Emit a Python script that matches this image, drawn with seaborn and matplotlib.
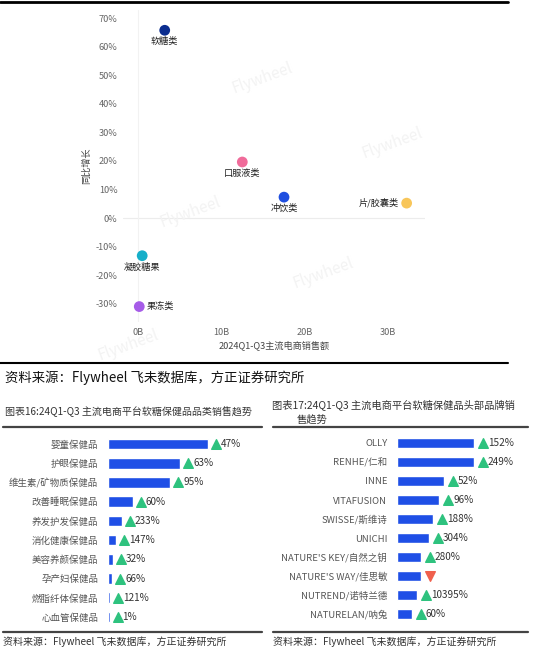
import matplotlib
matplotlib.use("Agg")
import matplotlib.pyplot as plt
import seaborn as sns
import pandas as pd

# scatter: category sales (B) vs YoY growth (%)
scatter_cats = ["软糖类", "口服液类", "冲饮类", "片/胶囊类", "凝胶糖果", "果冻类"]
scatter_sales = [3.2, 12.5, 17.5, 32.2, 0.5, 0.15]
scatter_growth = [65.7, 19.6, 7.3, 5.2, -13.2, -31.0]
scatter_colors = ["#0b2d8f", "#f06b9a", "#1f4fe0", "#f8c65a", "#16afc9", "#a65ce8"]

# left bars: category sales (relative) and growth labels
cat_names = ["婴童保健品", "护眼保健品", "维生素/矿物质保健品", "改善睡眠保健品", "养发护发保健品",
             "消化健康保健品", "美容养颜保健品", "孕产妇保健品", "燃脂纤体保健品", "心血管保健品"]
cat_sales = [100, 72, 62, 25, 14, 8, 5, 4, 2, 1.5]
cat_growth = ["47%", "63%", "95%", "60%", "233%", "147%", "32%", "66%", "121%", "1%"]

# right bars: brand sales (relative) and growth labels
brand_names = ["OLLY", "RENHE/仁和", "INNE", "VITAFUSION", "SWISSE/斯维诗", "UNICHI",
               "NATURE'S KEY/自然之钥", "NATURE'S WAY/佳思敏", "NUTREND/诺特兰德", "NATURELAN/呐兔"]
brand_sales = [77, 77, 47, 42, 36, 32, 24, 24, 20, 15]
brand_growth = ["152%", "249%", "52%", "96%", "188%", "304%", "280%", "", "10395%", "60%"]
brand_up = [True, True, True, True, True, True, True, False, True, True]

W, H = 540, 656
sns.set_style("white")
plt.rcParams["font.family"] = ["Noto Sans CJK SC", "DejaVu Sans"]

fig = plt.figure(figsize=(W / 100, H / 100), dpi=100)


def px_rect(left, top, right, bottom):
    return [left / W, 1 - bottom / H, (right - left) / W, (bottom - top) / H]


def hline(y, x0, x1, lw=1.5, color="black"):
    fig.add_artist(plt.Line2D([x0 / W, x1 / W], [1 - y / H, 1 - y / H], color=color, lw=lw))


source = "资料来源：Flywheel 飞未数据库，方正证券研究所"

# ---- scatter ----
ax = fig.add_axes(px_rect(123, 10, 425, 322))
ax.patch.set_alpha(0)
df_s = pd.DataFrame({"cat": scatter_cats, "sales": scatter_sales, "growth": scatter_growth})
ax.axhline(0, color="#ececec", lw=0.8, zorder=0)
ax.axvline(0, color="#f2f2f2", lw=0.8, zorder=0)
sns.scatterplot(data=df_s, x="sales", y="growth", hue="cat", hue_order=scatter_cats,
                palette=dict(zip(scatter_cats, scatter_colors)), s=60, edgecolor="none",
                legend=False, ax=ax, zorder=3)
for c, xv, yv in zip(scatter_cats, scatter_sales, scatter_growth):
    if c == "片/胶囊类":
        ax.annotate(c, (xv, yv), xytext=(-6, 0), textcoords="offset points",
                    ha="right", va="center", fontsize=6.6, color="#222222")
    elif c == "果冻类":
        ax.annotate(c, (xv, yv), xytext=(5, 0), textcoords="offset points",
                    ha="left", va="center", fontsize=6.6, color="#222222")
    else:
        ax.annotate(c, (xv, yv), xytext=(0, -5), textcoords="offset points",
                    ha="center", va="top", fontsize=6.6, color="#222222")
ax.set_xlim(-1.8, 34.4)
ax.set_ylim(-36.4, 72.8)
ax.set_xticks([0, 10, 20, 30])
ax.set_xticklabels(["0B", "10B", "20B", "30B"])
ax.set_yticks(range(-30, 71, 10))
ax.set_yticklabels([f"{v}%" for v in range(-30, 71, 10)])
ax.tick_params(length=0, labelsize=6.6, colors="#666666", pad=4)
for s in ax.spines.values():
    s.set_visible(False)
ax.set_xlabel("2024Q1-Q3主流电商销售额", fontsize=6.6, color="#444444", labelpad=3)
ax.set_ylabel("同比增长", fontsize=6.6, color="#444444", labelpad=3)

hline(2, 0, 508, lw=2)
hline(363, 0, 508, lw=1.5)
fig.text(5 / W, 1 - 378 / H, source,
         fontsize=9.6, color="#111111", va="center", ha="left", style="italic")

# watermarks
for (wx, wy) in [(262, 78), (392, 143), (190, 212), (323, 273), (128, 345)]:
    fig.text(wx / W, 1 - wy / H, "Flywheel", fontsize=11, color="#f3f3f3",
             rotation=20, ha="center", va="center", zorder=0)

# ---- left bar panel ----
fig.text(5 / W, 1 - 412 / H, "图表16:24Q1-Q3 主流电商平台软糖保健品品类销售趋势",
         fontsize=7.2, color="#333333", va="center", ha="left")
hline(427, 3, 262, lw=1.6, color="#444444")
hline(632, 3, 262, lw=1.6, color="#444444")
fig.text(3 / W, 1 - 642 / H, source,
         fontsize=7.2, color="#333333", va="center", ha="left", style="italic")

axl = fig.add_axes(px_rect(108, 434.4, 262, 626.6))
axl.patch.set_alpha(0)
df_l = pd.DataFrame({"name": cat_names, "sales": cat_sales})
sns.barplot(data=df_l, y="name", x="sales", orient="h", color="#1f4fe6",
            width=0.55, saturation=1, ax=axl)
for i, (v, g) in enumerate(zip(cat_sales, cat_growth)):
    axl.scatter(v + 8, i, marker="^", s=48, color="#2ec27e", zorder=4)
    axl.text(v + 13, i, g, va="center", ha="left", fontsize=7.2, color="#333333")
axl.set_xlim(0, 154)
axl.set_ylim(9.5, -0.5)
axl.set_xticks([])
axl.set_xlabel("")
axl.set_ylabel("")
axl.tick_params(axis="y", length=0, pad=7, labelsize=6.8, labelcolor="#555555")
for s in axl.spines.values():
    s.set_visible(False)

# ---- right bar panel ----
fig.text(272 / W, 1 - 405 / H, "图表17:24Q1-Q3 主流电商平台软糖保健品头部品牌销",
         fontsize=7.4, color="#333333", va="center", ha="left")
fig.text(297 / W, 1 - 420 / H, "售趋势", fontsize=7.4, color="#333333", va="center", ha="left")
hline(427, 273, 528, lw=1.6, color="#444444")
hline(632, 273, 528, lw=1.6, color="#444444")
fig.text(273 / W, 1 - 642 / H, source,
         fontsize=7.2, color="#333333", va="center", ha="left", style="italic")

axr = fig.add_axes(px_rect(397, 433.5, 528, 623.5))
axr.patch.set_alpha(0)
df_r = pd.DataFrame({"name": brand_names, "sales": brand_sales})
sns.barplot(data=df_r, y="name", x="sales", orient="h", color="#1f4fe6",
            width=0.55, saturation=1, ax=axr)
for i, (v, g, up) in enumerate(zip(brand_sales, brand_growth, brand_up)):
    axr.scatter(v + 9, i, marker="^" if up else "v", s=48,
                color="#2ec27e" if up else "#f0604d", zorder=4)
    if g:
        axr.text(v + 14, i, g, va="center", ha="left", fontsize=7.2, color="#333333")
axr.set_xlim(0, 131)
axr.set_ylim(9.5, -0.5)
axr.set_xticks([])
axr.set_xlabel("")
axr.set_ylabel("")
axr.tick_params(axis="y", length=0, pad=7, labelsize=6.8, labelcolor="#555555")
for s in axr.spines.values():
    s.set_visible(False)

fig.savefig("out.png", dpi=100, facecolor="white")
